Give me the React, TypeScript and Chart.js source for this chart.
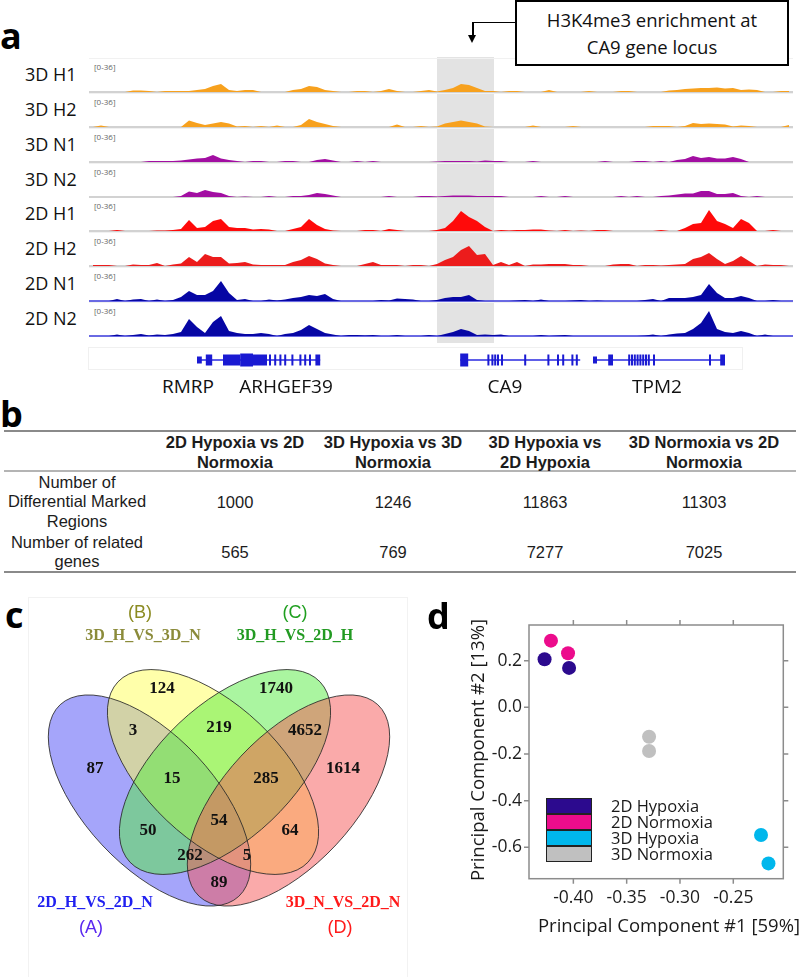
import React, { useEffect, useRef } from 'react';
import { Chart, registerables } from 'chart.js';

Chart.register(...registerables);

// ================= Panel a : H3K4me3 tracks =================
const BIN_COUNT = 88;
const trackNames = ['3D H1', '3D H2', '3D N1', '3D N2', '2D H1', '2D H2', '2D N1', '2D N2'];
const trackColors = ['#f7a11e', '#f7a11e', '#a20ea2', '#a20ea2', '#ff0a0a', '#ec1c1c', '#0606a4', '#0606a4'];
const trackBaseColors = ['#d2d2d2', '#d2d2d2', '#d2d2d2', '#d2d2d2', '#d2d2d2', '#d2d2d2', '#4646dc', '#4646dc'];
const trackRange = '[0-36]';

const track3DH1 = [
  0, 0, 0, 0, 0, 1.5, 1.5, 1, 0, 1,
  1, 1, 1, 2, 3, 6, 8, 2, 1, 2,
  2, 0, 0, 0, 0, 2, 3, 6, 5, 2,
  1, 0, 0, 1, 1, 0, 1, 3, 1, 0,
  0, 1, 2, 0.5, 2, 4, 8, 7, 4, 1,
  1, 0, 1, 1, 0, 0, 0, 2, 0, 0,
  0, 0, 1, 0, 0, 0, 1, 1, 0, 0,
  0, 0, 1.5, 2, 3, 3.5, 4, 4, 4.5, 3.5,
  4, 2, 2.5, 2, 0, 0, 1, 1,
];
const track3DH2 = [
  0, 1.5, 0, 0, 0, 0, 0, 0, 0, 0,
  0, 0, 6.5, 4, 2, 3.5, 5, 3.5, 0.5, 1,
  0, 1, 0, 1.5, 0, 0, 2, 8, 5, 3,
  1, 0, 0, 0, 0, 0, 0, 0, 2.5, 0,
  0, 1, 0, 0.5, 3.5, 5, 6.5, 5, 3.5, 0.5,
  0, 0, 0, 0, 0, 1.5, 0, 0, 0, 0,
  1, 0, 0, 0, 0, 0, 0, 0, 0, 0,
  1, 1, 1, 0, 1, 4, 3, 3.5, 3, 2.5,
  0.5, 1.5, 1, 0, 0, 0, 0, 2,
];
const track3DN1 = [
  0, 0, 0, 0, 0, 0, 0, 1, 1, 1,
  1, 1.5, 2.5, 3.5, 4, 7, 3.5, 2, 1, 0,
  1, 1, 0, 0, 1, 1, 0, 0, 2, 3,
  1.5, 0, 0, 1, 0, 1, 0, 0, 0, 0,
  0, 0, 0, 0.5, 1, 1, 1, 1, 0.5, 1.5,
  1, 1, 0, 0, 0, 1, 0, 0, 0, 0,
  0, 0, 0, 0, 1, 0, 0, 0, 1, 1,
  0, 1, 0, 2, 3, 6, 4, 5, 3.5, 3.5,
  5, 3, 0, 0, 0, 0, 0, 0,
];
const track3DN2 = [
  0, 0, 0, 0, 0, 0, 0, 0, 0, 0,
  0, 1, 5.5, 4, 7, 5, 4, 1, 0, 0.5,
  0, 0, 1, 0, 0, 1, 1, 2, 4, 3,
  1.5, 0, 0, 0, 0, 0, 0, 1, 0, 0,
  0, 1, 1, 0.5, 1, 1.5, 1.5, 1.5, 1, 1,
  1, 1, 0, 0, 0, 0, 1, 0, 0, 1,
  0, 0, 0, 0, 0, 0, 1, 0, 1, 0,
  0, 1, 1.5, 2.5, 3.5, 3.5, 6, 6, 3, 3,
  4, 1, 0, 1, 0, 0, 0, 0,
];
const track2DH1 = [
  0, 0, 0, 1, 0, 0, 0, 0, 0.5, 0.5,
  1, 2, 11, 3, 4, 10, 12, 4, 3, 3,
  1.5, 2, 1.5, 0, 0, 2, 4, 12, 6, 2,
  0.5, 0, 0, 0, 1, 1, 0, 2, 1, 0,
  0, 0, 0, 1, 3, 10, 20, 14, 10, 4,
  0, 1, 0.5, 1, 1, 1.5, 1.5, 0.5, 0, 1,
  0, 0.5, 0, 1, 1, 0, 0, 0, 0, 0,
  0, 1, 0, 0, 3, 7, 8, 21, 10, 7,
  3, 12, 8, 0, 0, 1, 0, 0,
];
const track2DH2 = [
  1, 1, 1, 0, 0, 1.5, 1, 1, 3, 0,
  1.5, 2.5, 9, 4, 12, 9, 9, 2.5, 3, 4,
  1.5, 1, 1, 1, 1, 4, 6, 10, 7, 2.5,
  1, 0, 0, 0, 2, 4, 1, 1, 1, 0,
  1, 1, 0, 2, 6, 9, 16, 20, 11, 12,
  1, 4, 1, 4, 0, 1.5, 1.5, 2, 2, 2,
  1, 1, 0, 0, 0, 1.5, 2, 2, 0, 1,
  1, 0.5, 1, 1.5, 2, 7, 9, 13, 7, 2,
  5, 10, 5, 0, 1.5, 1, 1, 0,
];
const track2DN1 = [
  0, 0, 0, 2, 0, 1.5, 2, 0, 1.5, 0,
  1, 4, 10, 6, 6, 10, 20, 8, 1, 2,
  0, 0, 1.5, 0.5, 1.5, 3, 4, 6, 5, 7,
  2, 0, 0, 0, 0, 0, 1, 0.5, 2.5, 2,
  1.5, 0, 0, 1, 3, 4, 4, 6, 1, 0,
  0, 0, 0, 0.5, 1, 0, 1.5, 0, 0, 0,
  0.5, 1, 0, 0.5, 0, 0, 0, 0, 0, 1,
  2, 0, 3, 3, 3, 4, 6, 17, 8, 3,
  3, 5, 3, 0, 0, 1, 0, 0,
];
const track2DN2 = [
  0, 0, 0, 1.5, 0, 1, 2, 0.5, 1.5, 1,
  2, 4, 17, 9, 3, 14, 20, 5, 3, 2,
  2, 3, 2, 0, 2, 3, 6, 11, 7, 3,
  1.5, 0, 1, 1, 0.5, 1, 0, 0, 1, 0,
  0, 0, 1, 0, 2, 4, 7, 5, 1, 1.5,
  1, 1.5, 0, 0, 0, 0, 1, 0, 0.5, 1,
  0, 0, 0, 0, 0, 0, 0, 0, 0, 0.5,
  1.5, 0, 1.5, 2.5, 3, 7, 13, 25, 7, 4,
  3, 5, 3, 0, 1.5, 0, 0, 0,
];
const trackValues = [track3DH1, track3DH2, track3DN1, track3DN2, track2DH1, track2DH2, track2DN1, track2DN2];

// highlighted locus (bin units)
const highlightStart = 43.5;
const highlightEnd = 50.6;

// gene models (bin units)
const geneLabels = ['RMRP', 'ARHGEF39', 'CA9', 'TPM2'];
const geneLabelCenters = [188, 286, 505, 657];
const geneLineStarts = [13.5, 46.4, 63.0];
const geneLineEnds = [28.9, 61.4, 79.5];
const exonStarts = [
  13.5, 14.6, 16.75, 18.9, 20.5, 22.5, 23.15, 23.8, 24.4, 25.3, 26.3, 26.9, 27.5, 28.3,
  46.4, 49.8, 50.3, 50.65, 51.0, 51.5, 54.4, 57.3, 58.5, 59.15, 60.3, 60.85,
  63.0, 64.9, 67.4, 67.75, 68.1, 68.45, 68.8, 69.15, 69.5, 69.85, 70.5, 77.5, 78.9,
];
const exonEnds = [
  14.1, 15.4, 18.9, 20.5, 22.25, 22.75, 23.4, 24.05, 24.65, 25.55, 26.55, 27.15, 27.75, 28.9,
  47.4, 50.05, 50.55, 50.9, 51.25, 51.75, 54.65, 57.55, 58.75, 59.4, 60.55, 61.1,
  63.5, 65.5, 67.65, 68.0, 68.35, 68.7, 69.05, 69.4, 69.75, 70.1, 70.75, 77.75, 79.5,
];
const exonKinds = [
  'utr', 'cds', 'cds', 'wide', 'cds', 'cds', 'cds', 'cds', 'cds', 'cds', 'cds', 'cds', 'cds', 'cds',
  'wide', 'cds', 'cds', 'cds', 'cds', 'cds', 'cds', 'cds', 'cds', 'cds', 'cds', 'cds',
  'utr', 'cds', 'cds', 'cds', 'cds', 'cds', 'cds', 'cds', 'cds', 'cds', 'cds', 'cds', 'cds',
];

// ================= Panel b : table =================
const tableHeaders = ['2D Hypoxia vs 2D\nNormoxia', '3D Hypoxia vs 3D\nNormoxia', '3D Hypoxia vs\n2D Hypoxia', '3D Normoxia vs 2D\nNormoxia'];
const tableRowLabels = ['Number of\nDifferential Marked\nRegions', 'Number of related\ngenes'];
const markedRegions = [1000, 1246, 11863, 11303];
const relatedGenes = [565, 769, 7277, 7025];

// ================= Panel c : Venn =================
const vennSetNames = ['2D_H_VS_2D_N', '3D_H_VS_3D_N', '3D_H_VS_2D_H', '3D_N_VS_2D_N'];
const vennSetLetters = ['(A)', '(B)', '(C)', '(D)'];
const vennFills = ['rgba(75,75,245,0.5)', 'rgba(255,255,85,0.5)', 'rgba(85,235,65,0.5)', 'rgba(245,85,85,0.5)'];
const vennCx = [149.5, 213, 225, 288.5];
const vennCy = [800.5, 772, 772, 800.5];
const vennRx = [131, 131, 131, 131];
const vennRy = [65, 67, 67, 65];
const vennAngle = [47, 43.5, 136.5, 133];
const regionCounts = [87, 124, 1740, 1614, 3, 219, 4652, 15, 285, 50, 54, 64, 262, 5, 89];
const regionX = [95, 162, 276, 343, 133, 219, 305, 172, 266, 148, 219, 290, 190, 247, 219];
const regionY = [768, 688, 688, 768, 730, 727, 730, 778, 778, 830, 820, 830, 855, 855, 882];

// ================= Panel d : PCA =================
const pcaGroups = ['2D Hypoxia', '2D Normoxia', '3D Hypoxia', '3D Normoxia'];
const pcaColors = ['#2c0a8e', '#ec0c8c', '#00b7ec', '#c0c0c0'];
const pc1_2DHypoxia = [-0.427, -0.404];
const pc2_2DHypoxia = [0.206, 0.169];
const pc1_2DNormoxia = [-0.421, -0.405];
const pc2_2DNormoxia = [0.286, 0.232];
const pc1_3DHypoxia = [-0.224, -0.217];
const pc2_3DHypoxia = [-0.547, -0.669];
const pc1_3DNormoxia = [-0.329, -0.329];
const pc2_3DNormoxia = [-0.126, -0.187];
const pc1Values = [pc1_2DHypoxia, pc1_2DNormoxia, pc1_3DHypoxia, pc1_3DNormoxia];
const pc2Values = [pc2_2DHypoxia, pc2_2DNormoxia, pc2_3DHypoxia, pc2_3DNormoxia];
const pc1Ticks = [-0.4, -0.35, -0.3, -0.25];
const pc2Ticks = [-0.6, -0.4, -0.2, 0.0, 0.2];

// ================= helpers =================
function ChartCanvas({ x, y, w, h, make }: { x: number; y: number; w: number; h: number; make: () => any }) {
  const ref = useRef<HTMLCanvasElement | null>(null);
  useEffect(() => {
    if (!ref.current) return;
    const chart = new Chart(ref.current, make());
    return () => chart.destroy();
  }, []);
  return (
    <div style={{ position: 'absolute', left: x, top: y, width: w, height: h }}>
      <canvas ref={ref} width={w} height={h} style={{ display: 'block', width: w, height: h }} />
    </div>
  );
}

const baseOpts = {
  animation: false,
  responsive: false,
  devicePixelRatio: 1,
  events: [],
  plugins: { legend: { display: false }, tooltip: { enabled: false } },
};

function makeTrack(k: number) {
  return () => ({
    type: 'line',
    data: {
      datasets: [
        {
          data: trackValues[k].map((v, i) => ({ x: i + 0.5, y: v })),
          borderColor: 'rgba(0,0,0,0)',
          backgroundColor: trackColors[k],
          borderWidth: 0,
          pointRadius: 0,
          fill: 'origin',
          tension: 0,
        },
      ],
    },
    options: {
      ...baseOpts,
      layout: { padding: { left: 0, right: 0, top: 0, bottom: 2 } },
      scales: {
        x: { type: 'linear', min: 0, max: BIN_COUNT, display: false },
        y: { type: 'linear', min: 0, max: 36, display: false },
      },
    },
    plugins: [
      {
        id: 'baseline',
        beforeDatasetsDraw(chart: any) {
          const { ctx, chartArea, scales } = chart;
          const y0 = scales.y.getPixelForValue(0);
          const bw = k >= 6 ? 1.6 : 2;
          ctx.save();
          ctx.fillStyle = trackBaseColors[k];
          ctx.fillRect(chartArea.left, y0 - bw / 2, chartArea.right - chartArea.left, bw);
          ctx.restore();
        },
      },
    ],
  });
}

function makeGenes() {
  return () => ({
    type: 'scatter',
    data: { datasets: [{ data: geneLineStarts.map((s) => ({ x: s, y: 0 })), pointRadius: 0, showLine: false }] },
    options: {
      ...baseOpts,
      layout: { padding: 0 },
      scales: {
        x: { type: 'linear', min: 0, max: BIN_COUNT, display: false },
        y: { type: 'linear', min: -1, max: 1, display: false },
      },
    },
    plugins: [
      {
        id: 'genes',
        afterDatasetsDraw(chart: any) {
          const { ctx, scales } = chart;
          const yc = scales.y.getPixelForValue(0);
          ctx.save();
          ctx.strokeStyle = '#2a2ae0';
          ctx.lineWidth = 1.5;
          geneLineStarts.forEach((s, g) => {
            ctx.beginPath();
            ctx.moveTo(scales.x.getPixelForValue(s), yc);
            ctx.lineTo(scales.x.getPixelForValue(geneLineEnds[g]), yc);
            ctx.stroke();
          });
          ctx.fillStyle = '#1a1ad2';
          exonStarts.forEach((s, e) => {
            const x0 = scales.x.getPixelForValue(s);
            const x1 = scales.x.getPixelForValue(exonEnds[e]);
            const hh = exonKinds[e] === 'utr' ? 7 : exonKinds[e] === 'wide' ? 13 : 11;
            ctx.fillRect(x0, yc - hh / 2, Math.max(2, x1 - x0), hh);
          });
          ctx.restore();
        },
      },
    ],
  });
}

function makeVenn() {
  return () => ({
    type: 'scatter',
    data: { datasets: [{ data: regionX.map((x, i) => ({ x, y: regionY[i] })), pointRadius: 0, showLine: false }] },
    options: {
      ...baseOpts,
      layout: { padding: 0 },
      scales: {
        x: { type: 'linear', min: 0, max: 430, display: false },
        y: { type: 'linear', min: 590, max: 977, reverse: true, display: false },
      },
    },
    plugins: [
      {
        id: 'ellipses',
        beforeDatasetsDraw(chart: any) {
          const { ctx, scales } = chart;
          const paths = vennCx.map((cx, i) => {
            const px = scales.x.getPixelForValue(cx);
            const py = scales.y.getPixelForValue(vennCy[i]);
            const rx = scales.x.getPixelForValue(cx + vennRx[i]) - px;
            const ry = scales.y.getPixelForValue(vennCy[i] + vennRy[i]) - py;
            const p = new Path2D();
            p.ellipse(px, py, Math.abs(rx), Math.abs(ry), (vennAngle[i] * Math.PI) / 180, 0, Math.PI * 2);
            return p;
          });
          ctx.save();
          paths.forEach((p, i) => {
            ctx.fillStyle = vennFills[i];
            ctx.fill(p);
          });
          ctx.strokeStyle = 'rgba(40,40,40,0.85)';
          ctx.lineWidth = 1;
          paths.forEach((p) => ctx.stroke(p));
          ctx.restore();
        },
        afterDatasetsDraw(chart: any) {
          const { ctx, scales } = chart;
          ctx.save();
          ctx.fillStyle = '#111';
          ctx.font = 'bold 17px "Liberation Serif"';
          ctx.textAlign = 'center';
          ctx.textBaseline = 'middle';
          regionCounts.forEach((c, i) => {
            ctx.fillText(String(c), scales.x.getPixelForValue(regionX[i]), scales.y.getPixelForValue(regionY[i]) + 1);
          });
          ctx.restore();
        },
      },
    ],
  });
}

function makePca() {
  return () => ({
    type: 'scatter',
    data: {
      datasets: pcaGroups.map((g, k) => ({
        label: g,
        data: pc1Values[k].map((x, j) => ({ x, y: pc2Values[k][j] })),
        backgroundColor: pcaColors[k],
        borderWidth: 0,
        pointRadius: 7,
      })),
    },
    options: {
      ...baseOpts,
      layout: { padding: { left: 0, top: 35, right: 16.7, bottom: 0 } },
      scales: {
        x: {
          type: 'linear',
          min: -0.4416,
          max: -0.2031,
          afterBuildTicks: (s: any) => {
            s.ticks = pc1Ticks.map((v) => ({ value: v }));
          },
          afterFit: (s: any) => {
            s.height = 98.3;
          },
          ticks: {
            callback: (v: any) => Number(v).toFixed(2),
            font: { family: 'Open Sans', size: 17.5 },
            color: '#1e1e1e',
            padding: 9,
            maxRotation: 0,
            autoSkip: false,
          },
          grid: { display: false, drawTicks: false },
          border: { display: false },
        },
        y: {
          type: 'linear',
          min: -0.7346,
          max: 0.353,
          afterBuildTicks: (s: any) => {
            s.ticks = pc2Ticks.map((v) => ({ value: v }));
          },
          afterFit: (s: any) => {
            s.width = 89;
          },
          ticks: {
            callback: (v: any) => Number(v).toFixed(1),
            font: { family: 'Open Sans', size: 17.5 },
            color: '#1e1e1e',
            padding: 7,
            autoSkip: false,
          },
          grid: { display: false, drawTicks: false },
          border: { display: false },
        },
      },
    },
    plugins: [
      {
        id: 'frameTicks',
        afterDraw(chart: any) {
          const { ctx, chartArea: a, scales } = chart;
          ctx.save();
          ctx.strokeStyle = '#8c8c8c';
          ctx.lineWidth = 1.5;
          ctx.strokeRect(a.left, a.top, a.right - a.left, a.bottom - a.top);
          ctx.beginPath();
          pc1Ticks.forEach((v) => {
            const px = scales.x.getPixelForValue(v);
            ctx.moveTo(px, a.top);
            ctx.lineTo(px, a.top - 5);
            ctx.moveTo(px, a.bottom);
            ctx.lineTo(px, a.bottom + 5);
          });
          pc2Ticks.forEach((v) => {
            const py = scales.y.getPixelForValue(v);
            ctx.moveTo(a.left, py);
            ctx.lineTo(a.left - 5, py);
            ctx.moveTo(a.right, py);
            ctx.lineTo(a.right + 5, py);
          });
          ctx.stroke();
          ctx.restore();
        },
      },
    ],
  });
}

const abs = (o: any) => ({ position: 'absolute' as const, ...o });

const panelLetter = (t: string, left: number, top: number) => (
  <div style={abs({ left, top, fontFamily: 'Open Sans', fontWeight: 700, fontSize: 36, lineHeight: '36px', color: '#000' })}>{t}</div>
);

export default function App() {
  const trackLeft = 89;
  const trackWidth = 704;
  const baselines = trackNames.map((_, k) => 91.8 + k * 34.9);
  const binPx = trackWidth / BIN_COUNT;

  const tableCols = [235, 393, 545, 704];
  const txt = { fontFamily: '"Liberation Sans", Arial, sans-serif', fontSize: 16.5, lineHeight: '19.5px', color: '#1c1c1c', textAlign: 'center' as const, whiteSpace: 'pre-line' as const };

  return (
    <div style={abs({ left: 0, top: 0, width: 800, height: 977, background: '#fff', overflow: 'hidden' })}>
      {/* ---------- panel a ---------- */}
      {panelLetter('a', 0, 18)}
      <div
        style={abs({
          left: trackLeft + highlightStart * binPx,
          top: 57,
          width: (highlightEnd - highlightStart) * binPx,
          height: 286,
          background: '#e3e3e3',
        })}
      />
      {baselines.map((b, k) => (
        <div key={'sep' + k} style={abs({ left: trackLeft, top: b - 34, width: trackWidth, height: 1, background: '#f1f1f1' })} />
      ))}
      {trackNames.map((n, k) => (
        <div key={'tn' + k} style={abs({ left: 25, top: baselines[k] - 29, fontFamily: 'Open Sans', fontSize: 18, lineHeight: '22px', color: '#111', whiteSpace: 'nowrap' })}>
          {n}
        </div>
      ))}
      {trackNames.map((_, k) => (
        <div key={'tr' + k} style={abs({ left: 94, top: baselines[k] - 30, fontFamily: 'Open Sans', fontSize: 8, lineHeight: '10px', color: '#666' })}>
          {trackRange}
        </div>
      ))}
      {trackNames.map((_, k) => (
        <ChartCanvas key={'tc' + k} x={trackLeft} y={baselines[k] - 36} w={trackWidth} h={38} make={makeTrack(k)} />
      ))}
      <div style={abs({ left: 88, top: 347, width: 655, height: 23, border: '1px solid #f0f0f0', boxSizing: 'border-box' })} />
      <ChartCanvas x={trackLeft} y={347} w={trackWidth} h={26} make={makeGenes()} />
      {geneLabels.map((g, i) => (
        <div key={'gl' + i} style={abs({ left: geneLabelCenters[i] - 70, top: 374, width: 140, textAlign: 'center', fontFamily: 'Open Sans', fontSize: 19, lineHeight: '24px', color: '#111' })}>
          {g}
        </div>
      ))}
      {/* callout */}
      <div
        style={abs({
          left: 515,
          top: 0,
          width: 274,
          height: 66,
          border: '2px solid #000',
          boxSizing: 'border-box',
          display: 'flex',
          alignItems: 'center',
          justifyContent: 'center',
          textAlign: 'center',
          fontFamily: 'Open Sans',
          fontSize: 18.5,
          lineHeight: '27px',
          color: '#111',
          background: '#fff',
        })}
      >
        H3K4me3 enrichment at
        <br />
        CA9 gene locus
      </div>
      <div style={abs({ left: 472, top: 21.5, width: 43, height: 1.6, background: '#000' })} />
      <div style={abs({ left: 472, top: 21.5, width: 1.6, height: 14, background: '#000' })} />
      <div style={abs({ left: 468, top: 35, width: 0, height: 0, borderLeft: '4.8px solid transparent', borderRight: '4.8px solid transparent', borderTop: '8px solid #000' })} />

      {/* ---------- panel b ---------- */}
      {panelLetter('b', 0, 396)}
      <div style={abs({ left: 4, top: 430, width: 792, height: 2, background: '#8a8a8a' })} />
      <div style={abs({ left: 4, top: 470, width: 792, height: 2, background: '#b4b4b4' })} />
      <div style={abs({ left: 4, top: 571, width: 792, height: 2, background: '#8a8a8a' })} />
      {tableHeaders.map((h, i) => (
        <div key={'th' + i} style={abs({ ...txt, left: tableCols[i] - 80, top: 433, width: 160, fontWeight: 700 })}>
          {h}
        </div>
      ))}
      <div style={abs({ ...txt, left: 2, top: 472.5, width: 150 })}>{tableRowLabels[0]}</div>
      <div style={abs({ ...txt, left: 2, top: 532.5, width: 150 })}>{tableRowLabels[1]}</div>
      {markedRegions.map((v, i) => (
        <div key={'r1' + i} style={abs({ ...txt, left: tableCols[i] - 60, top: 492.5, width: 120 })}>
          {v}
        </div>
      ))}
      {relatedGenes.map((v, i) => (
        <div key={'r2' + i} style={abs({ ...txt, left: tableCols[i] - 60, top: 542.5, width: 120 })}>
          {v}
        </div>
      ))}

      {/* ---------- panel c ---------- */}
      <div style={abs({ left: 28, top: 597, width: 380, height: 390, border: '1px solid #f2f2f2', boxSizing: 'border-box' })} />
      {panelLetter('c', 5, 597)}
      <ChartCanvas x={0} y={590} w={430} h={387} make={makeVenn()} />
      <div style={abs({ left: 90, top: 601, width: 100, textAlign: 'center', fontFamily: '"Liberation Sans", Arial', fontSize: 18, lineHeight: '22px', color: '#8b8b22' })}>{vennSetLetters[1]}</div>
      <div style={abs({ left: 63, top: 625, width: 160, textAlign: 'center', fontFamily: '"Liberation Serif"', fontWeight: 700, fontSize: 16, lineHeight: '20px', color: '#8b8b3a' })}>{vennSetNames[1]}</div>
      <div style={abs({ left: 245, top: 601, width: 100, textAlign: 'center', fontFamily: '"Liberation Sans", Arial', fontSize: 18, lineHeight: '22px', color: '#1f9f1f' })}>{vennSetLetters[2]}</div>
      <div style={abs({ left: 215, top: 625, width: 160, textAlign: 'center', fontFamily: '"Liberation Serif"', fontWeight: 700, fontSize: 16, lineHeight: '20px', color: '#229a22' })}>{vennSetNames[2]}</div>
      <div style={abs({ left: 15, top: 892, width: 160, textAlign: 'center', fontFamily: '"Liberation Serif"', fontWeight: 700, fontSize: 16, lineHeight: '20px', color: '#2020f0' })}>{vennSetNames[0]}</div>
      <div style={abs({ left: 41, top: 916, width: 100, textAlign: 'center', fontFamily: '"Liberation Sans", Arial', fontSize: 18, lineHeight: '22px', color: '#5a28f0' })}>{vennSetLetters[0]}</div>
      <div style={abs({ left: 263, top: 892, width: 160, textAlign: 'center', fontFamily: '"Liberation Serif"', fontWeight: 700, fontSize: 16, lineHeight: '20px', color: '#ff1a1a' })}>{vennSetNames[3]}</div>
      <div style={abs({ left: 290, top: 916, width: 100, textAlign: 'center', fontFamily: '"Liberation Sans", Arial', fontSize: 18, lineHeight: '22px', color: '#ff1a1a' })}>{vennSetLetters[3]}</div>

      {/* ---------- panel d ---------- */}
      {panelLetter('d', 427, 598)}
      <ChartCanvas x={440} y={590} w={360} h={387} make={makePca()} />
      <div style={abs({ left: 519, top: 914, width: 300, textAlign: 'center', fontFamily: 'Open Sans', fontSize: 18.5, lineHeight: '22px', color: '#1a1a1a', whiteSpace: 'nowrap' })}>
        Principal Component #1 [59%]
      </div>
      <div
        style={abs({
          left: 476.7 - 150,
          top: 750 - 11,
          width: 300,
          height: 22,
          textAlign: 'center',
          fontFamily: 'Open Sans',
          fontSize: 18.5,
          lineHeight: '22px',
          color: '#1a1a1a',
          whiteSpace: 'nowrap',
          transform: 'rotate(-90deg)',
        })}
      >
        Principal Component #2 [13%]
      </div>
      {pcaGroups.map((g, k) => (
        <div key={'lb' + k} style={abs({ left: 546, top: 797.5 + k * 16.1, width: 46, height: 16.1, background: pcaColors[k], border: '1.3px solid #222', boxSizing: 'border-box' })} />
      ))}
      {pcaGroups.map((g, k) => (
        <div key={'lt' + k} style={abs({ left: 611, top: 797.5 + k * 16.1, fontFamily: 'Open Sans', fontSize: 16.5, lineHeight: '16px', color: '#1a1a1a', whiteSpace: 'nowrap' })}>
          {g}
        </div>
      ))}
    </div>
  );
}
